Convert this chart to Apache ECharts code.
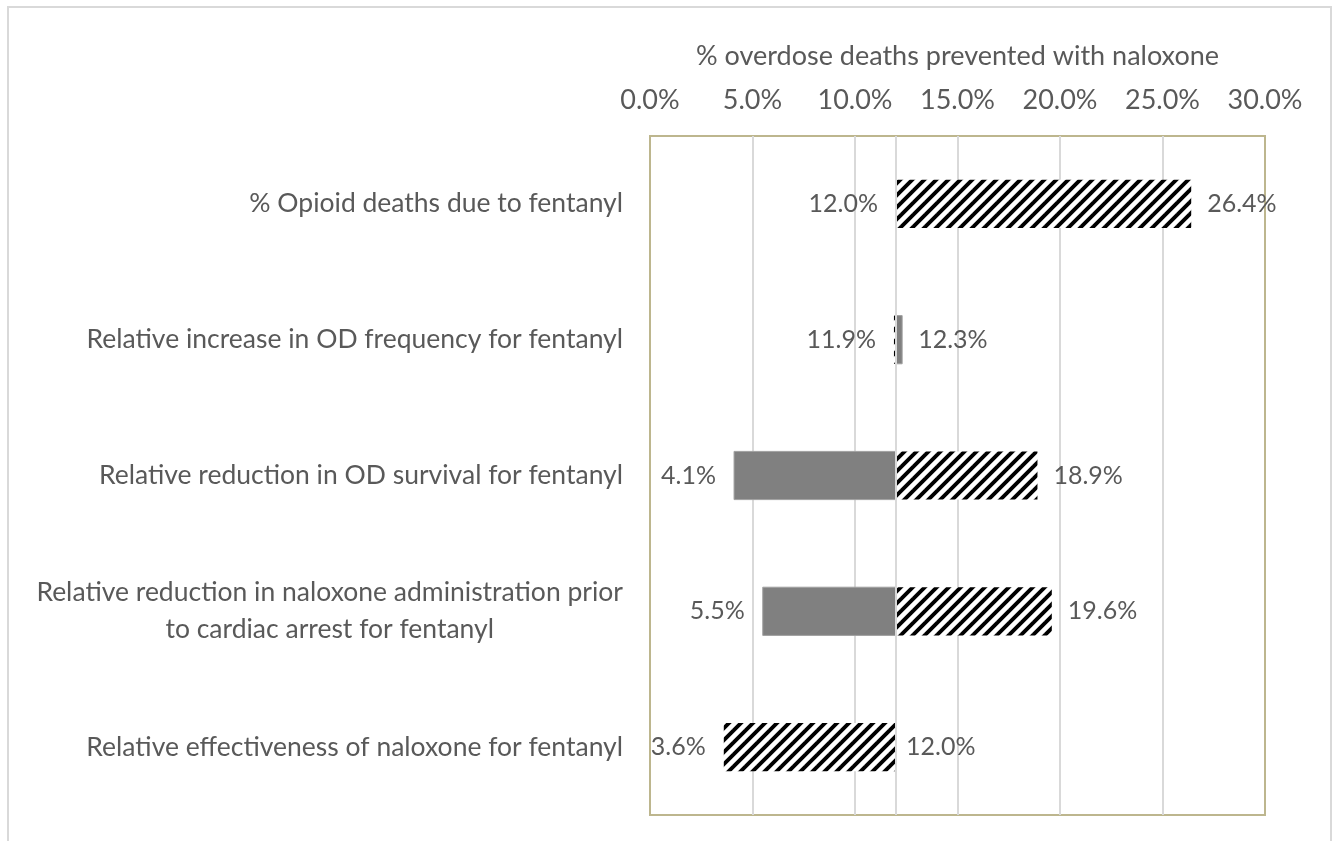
<!DOCTYPE html>
<html>
<head>
<meta charset="utf-8">
<script src="https://cdn.jsdelivr.net/npm/echarts@6/dist/echarts.min.js"></script>
<style>
  html, body { margin: 0; padding: 0; background: #ffffff; }
  #chart { width: 1339px; height: 841px; }
</style>
</head>
<body>
<div id="chart"></div>
<script>
// ---- data ----
const categories = [
  '% Opioid deaths due to fentanyl',
  'Relative increase in OD frequency for fentanyl',
  'Relative reduction in OD survival for fentanyl',
  'Relative reduction in naloxone administration prior\nto cardiac arrest for fentanyl',
  'Relative effectiveness of naloxone for fentanyl'
];
const baseValue = 12.0;
// result with low input value (solid grey)
const lowInputResult = [12.0, 12.3, 4.1, 5.5, 12.0];
// result with high input value (hatched)
const highInputResult = [26.4, 11.9, 18.9, 19.6, 3.6];
const axisTicks = [0, 5, 10, 15, 20, 25, 30];
const axisTitle = '% overdose deaths prevented with naloxone';

// ---- styles ----
const FONT = 'Lato, "Open Sans", sans-serif';
const TEXT = '#595959';
const GREY = '#808080';

function makeHatch() {
  const s = 12;
  const c = document.createElement('canvas');
  c.width = s; c.height = s;
  const g = c.getContext('2d');
  g.fillStyle = '#ffffff';
  g.fillRect(0, 0, s, s);
  g.strokeStyle = '#000000';
  g.lineWidth = 3.9;
  g.lineCap = 'butt';
  const segs = [[-s, s, s, -s], [0, s, s, 0], [0, 2 * s, 2 * s, 0]];
  segs.forEach(([x0, y0, x1, y1]) => {
    g.beginPath(); g.moveTo(x0, y0); g.lineTo(x1, y1); g.stroke();
  });
  return c;
}
const hatch = makeHatch();

function buildData(values, others) {
  return values.map((v, i) => [i, v, others[i]]);
}

function makeRenderItem(fill) {
  return function (params, api) {
    const cat = api.value(0);
    const v = api.value(1);
    const other = api.value(2);
    const pBase = api.coord([baseValue, cat]);
    const pVal = api.coord([v, cat]);
    const band = api.size([0, 1])[1];
    const h = band * 0.355;
    const x0 = Math.min(pBase[0], pVal[0]);
    const w = Math.abs(pVal[0] - pBase[0]);
    const onLeft = v < other;
    const children = [];
    if (w > 0.01) {
      children.push({
        type: 'rect',
        shape: { x: x0, y: pBase[1] - h / 2, width: w, height: h },
        style: fill
      });
    }
    children.push({
      type: 'text',
      style: {
        text: v.toFixed(1) + '%',
        x: onLeft ? pVal[0] - 18 : pVal[0] + (w > 0.01 ? 16 : 10),
        y: pBase[1],
        align: onLeft ? 'right' : 'left',
        verticalAlign: 'middle',
        fill: TEXT,
        font: '25px ' + FONT
      }
    });
    return { type: 'group', children: children };
  };
}

const chart = echarts.init(document.getElementById('chart'), null, { renderer: 'canvas' });

const option = {
  backgroundColor: '#ffffff',
  animation: false,
  graphic: [{
    type: 'rect',
    shape: { x: 8, y: 7, width: 1323, height: 900 },
    style: { fill: 'none', stroke: '#d9d9d9', lineWidth: 2 },
    silent: true,
    z: -10
  }],
  grid: {
    left: 650, right: 74, top: 136, bottom: 26,
    show: true,
    borderColor: '#bdb68e',
    borderWidth: 2,
    containLabel: false
  },
  xAxis: {
    type: 'value',
    position: 'top',
    min: axisTicks[0],
    max: axisTicks[axisTicks.length - 1],
    interval: axisTicks[1] - axisTicks[0],
    name: axisTitle,
    nameLocation: 'middle',
    nameGap: 66,
    nameTextStyle: { color: TEXT, fontSize: 27, fontFamily: FONT },
    axisLine: { show: false },
    axisTick: { show: false },
    axisLabel: {
      color: TEXT, fontSize: 27, fontFamily: FONT, margin: 22,
      formatter: v => v.toFixed(1) + '%'
    },
    splitLine: {
      show: true, showMinLine: false, showMaxLine: false,
      lineStyle: { color: '#d9d9d9', width: 2 }
    }
  },
  yAxis: {
    type: 'category',
    inverse: true,
    data: categories,
    axisLine: { show: false },
    axisTick: { show: false },
    splitLine: { show: false },
    axisLabel: {
      margin: 27,
      align: 'right',
      formatter: v => '{c|' + v + '}',
      rich: {
        c: { color: TEXT, fontSize: 26.5, fontFamily: FONT, align: 'center', lineHeight: 37 }
      }
    }
  },
  series: [
    {
      name: 'Low input',
      type: 'custom',
      renderItem: makeRenderItem({ fill: GREY, stroke: '#a0a0a0', lineWidth: 1 }),
      encode: { x: 1, y: 0 },
      data: buildData(lowInputResult, highInputResult),
      z: 3,
      markLine: {
        silent: true,
        symbol: 'none',
        label: { show: false },
        lineStyle: { color: '#d9d9d9', width: 2, type: 'solid' },
        data: [{ xAxis: baseValue }]
      }
    },
    {
      name: 'High input',
      type: 'custom',
      renderItem: makeRenderItem({ fill: { image: hatch, repeat: 'repeat' } }),
      encode: { x: 1, y: 0 },
      data: buildData(highInputResult, lowInputResult),
      z: 4
    }
  ]
};
chart.setOption(option);
</script>
</body>
</html>
